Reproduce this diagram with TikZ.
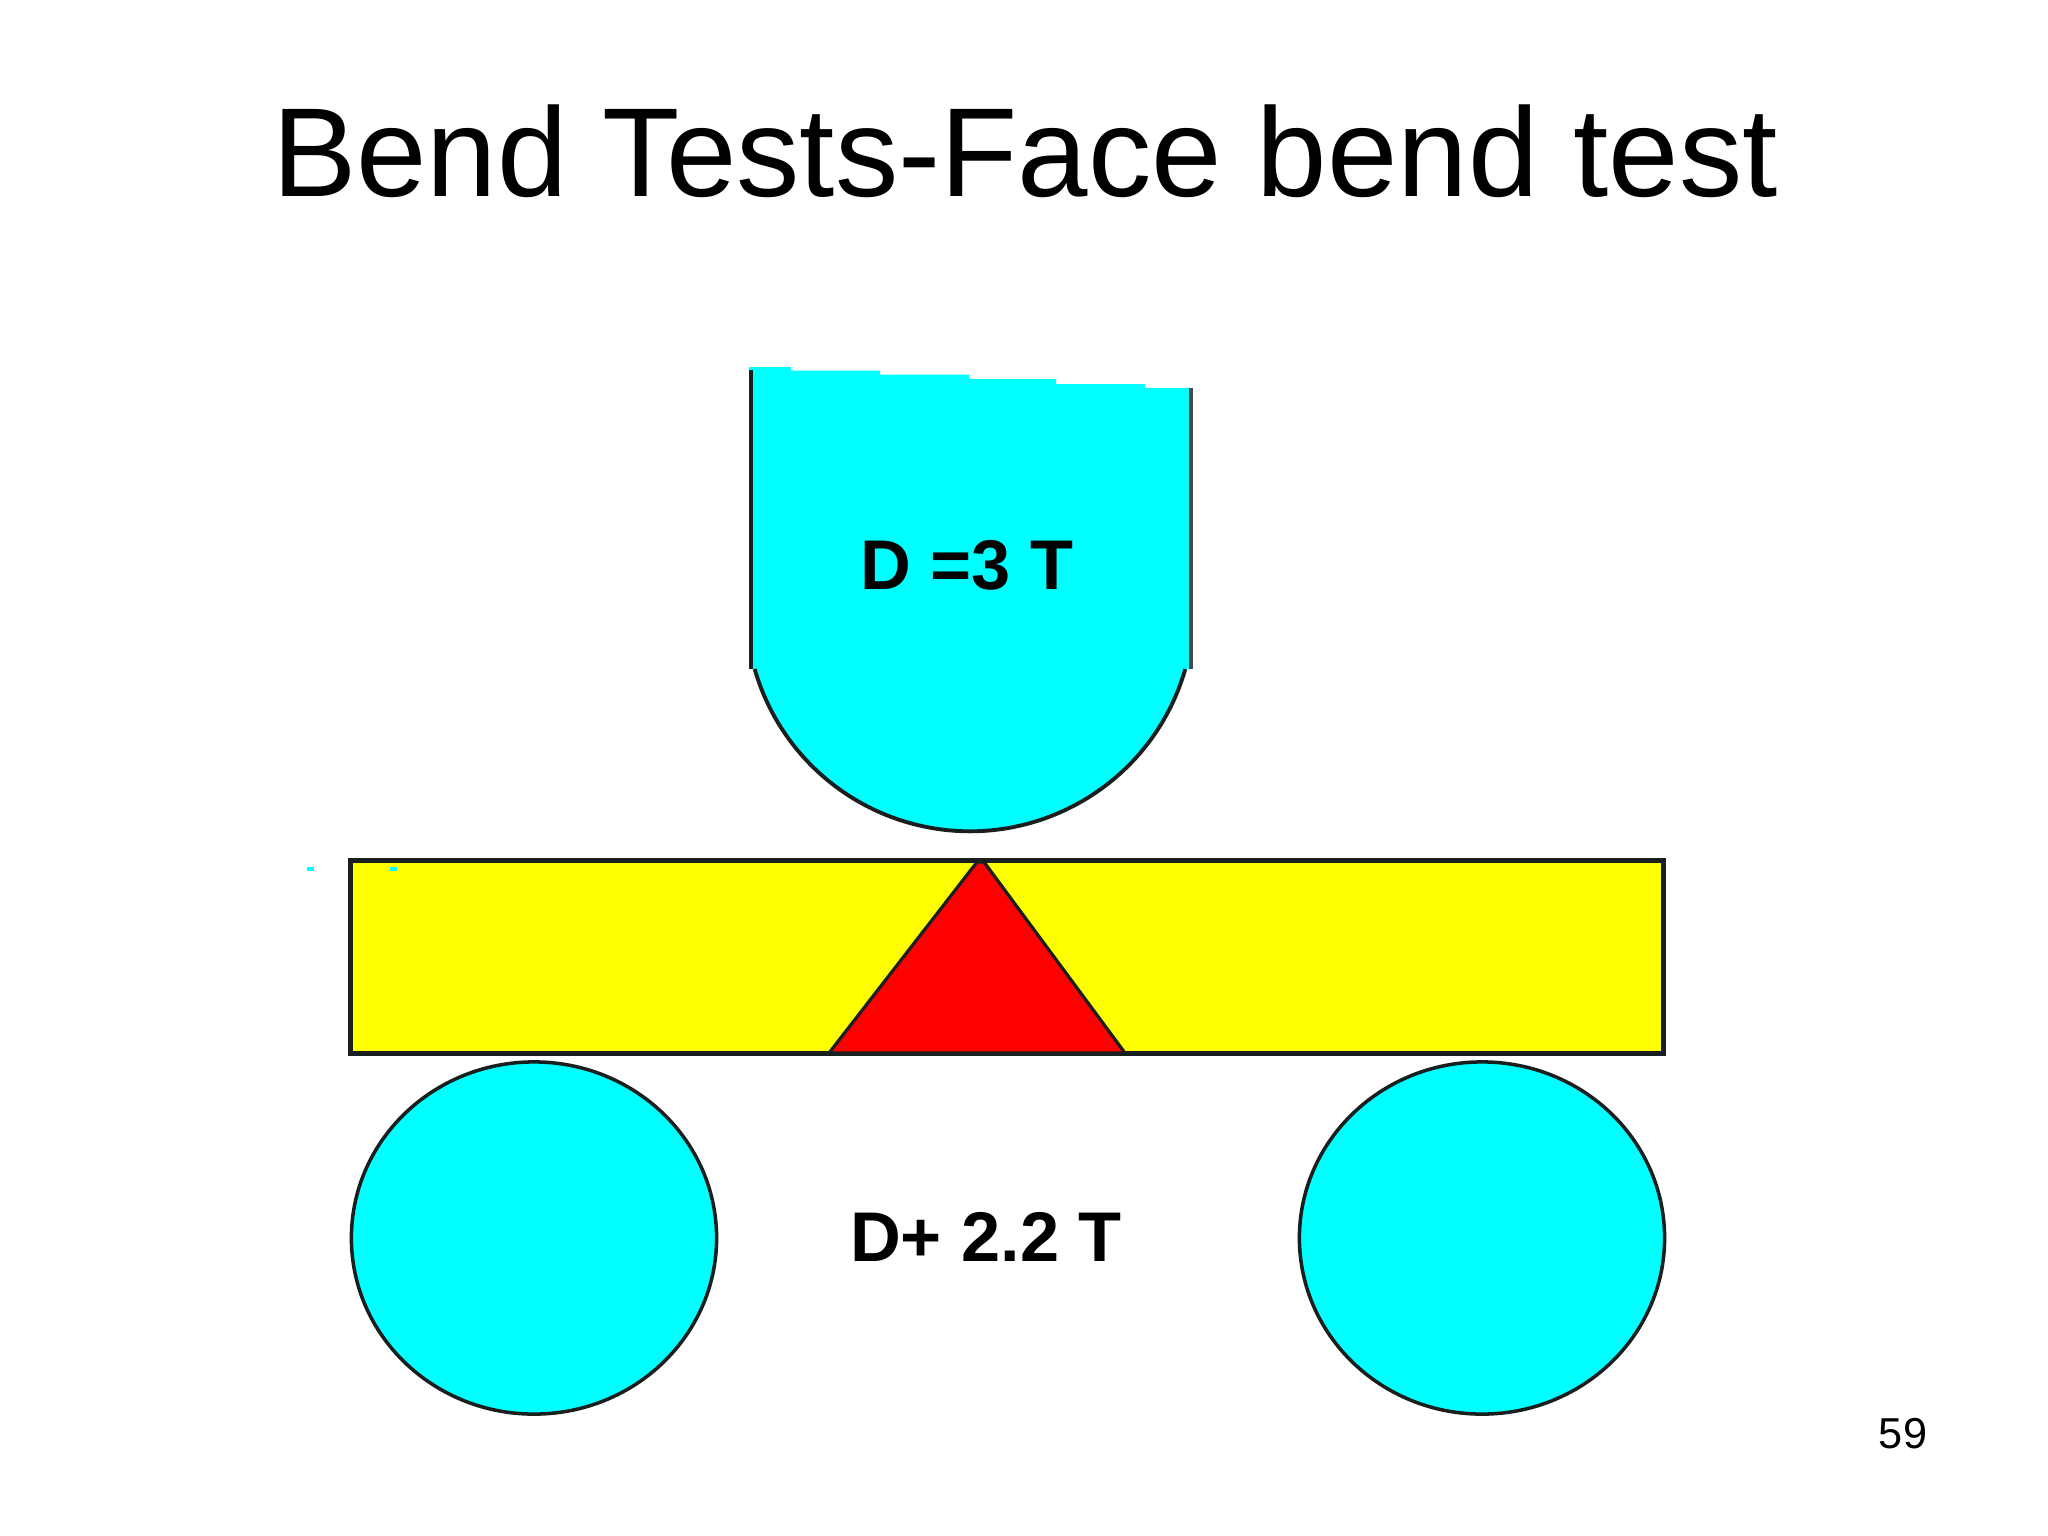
\documentclass[tikz,border=0pt]{standalone}
\usepackage{fontspec}
\setmainfont{Liberation Sans}
\usetikzlibrary{shapes.geometric}
\definecolor{toolcyan}{RGB}{0,255,255}
\definecolor{baryellow}{RGB}{255,255,0}
\definecolor{weldred}{RGB}{255,0,0}
\definecolor{edgeblack}{RGB}{25,30,30}
\tikzset{
	roller/.style={shape=ellipse,draw=edgeblack,fill=toolcyan,line width=1pt,inner sep=0pt,outer sep=0pt,minimum width=3.65cm,minimum height=3.52cm},
	size label/.style={font=\fontsize{20}{24}\selectfont\bfseries,text=black,inner sep=0pt},
	speck/.style={fill=toolcyan,inner sep=0pt,minimum width=0.07cm,minimum height=0.04cm}
}
\begin{document}
\begin{tikzpicture}[x=0.01cm,y=-0.01cm]
	\useasboundingbox (0,0) rectangle (2048,1536);
	\fill[white] (0,0) rectangle (2048,1536);

	\node(title) [font=\fontsize{36}{42}\selectfont,inner sep=0pt] at (1025,151) {Bend Tests-Face bend test};

	\coordinate(tl) at (751,370);
	\coordinate(bl) at (751,669);
	\coordinate(tr) at (1191,388);
	\coordinate(br) at (1191,669);
	\coordinate(arcr) at (1185.3,669);
	\fill[toolcyan] (749,367) -- (791,367) -- (791,370.5) -- (880,370.5) -- (880,374.5) -- (969,374.5) -- (969,379) -- (1056,379) -- (1056,384) -- (1145,384) -- (1145,388) -- (1192,388) -- (br) -- (arcr) arc[start angle=16,end angle=164,x radius=224,y radius=224] -- (bl) -- cycle;
	\draw[edgeblack,line width=1.3pt] (tl) -- (bl);
	\draw[edgeblack!80,line width=1.3pt] (tr) -- (br);
	\draw[edgeblack,line width=1.1pt] (arcr) arc[start angle=16,end angle=164,x radius=224,y radius=224];
	\node(former) [size label] at (967,565) {D =3 T};

	\node(plate) [draw=edgeblack,fill=baryellow,line width=1.3pt,inner sep=0pt,outer sep=0pt,minimum width=13.12cm,minimum height=1.93cm] at (1007,957) {};
	\coordinate(apexl) at (977,862);
	\coordinate(apexr) at (984,862);
	\coordinate(basel) at (829,1053);
	\coordinate(baser) at (1125,1053);
	\draw[edgeblack,fill=weldred,line width=0.9pt] (basel) -- (apexl) -- (apexr) -- (baser) -- cycle;

	\node(speck1) [speck] at (310,869) {};
	\node(speck2) [speck] at (393,869) {};

	\node(left) [roller] at (534,1238) {};
	\node(right) [roller] at (1482,1238) {};
	\node(span) [size label] at (986,1237) {D+ 2.2 T};

	\node(page) [font=\fontsize{12.3}{14}\selectfont,inner sep=0pt] at (1903,1434) {59};
\end{tikzpicture}
\end{document}
